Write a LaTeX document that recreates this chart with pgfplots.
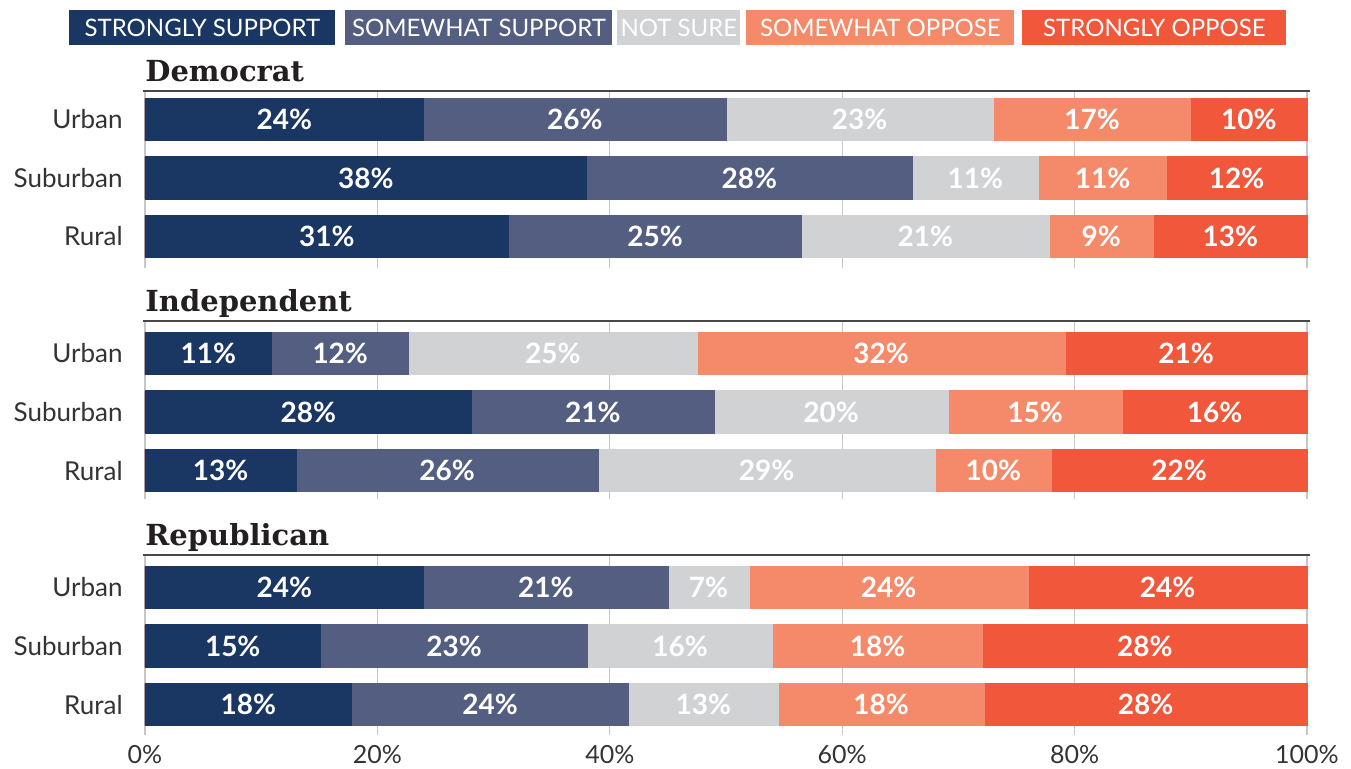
\documentclass[border=0pt]{standalone}
\usepackage{pgfplots}
\pgfplotsset{compat=1.18}
\usepackage{pgfplotstable}
\usepackage{fontspec}
\setmainfont{Lato}
\newfontfamily\titlefont{DejaVu Serif}
\definecolor{ss}{HTML}{1A3663}
\definecolor{sw}{HTML}{545E80}
\definecolor{ns}{HTML}{D1D2D4}
\definecolor{so}{HTML}{F48A69}
\definecolor{sto}{HTML}{F0573B}
\definecolor{txt}{HTML}{333333}
\definecolor{ttl}{HTML}{231F20}

\pgfplotstableread{
row v1 v2 v3 v4 v5
0 24.0 26.0 23.0 17.0 10.0
1 38.0 28.0 10.9 11.0 12.1
2 31.3 25.2 21.3 9.0 13.2
}\dem
\pgfplotstableread{
row v1 v2 v3 v4 v5
0 10.9 11.8 24.8 31.7 20.8
1 28.1 20.9 20.1 15.0 15.9
2 13.0 26.0 29.0 10.0 22.0
}\ind
\pgfplotstableread{
row v1 v2 v3 v4 v5
0 24.0 21.0 7.0 24.0 24.0
1 15.1 23.0 15.9 18.1 27.9
2 17.8 23.8 12.9 17.7 27.8
}\rep

\newcommand\allsegs[1]{%
\addplot[barst, fill=sto, draw=sto] table[x expr=\thisrow{v1}+\thisrow{v2}+\thisrow{v3}+\thisrow{v4}+\thisrow{v5}, y=row]{#1};
\addplot[barst, fill=so, draw=so] table[x expr=\thisrow{v1}+\thisrow{v2}+\thisrow{v3}+\thisrow{v4}, y=row]{#1};
\addplot[barst, fill=ns, draw=ns] table[x expr=\thisrow{v1}+\thisrow{v2}+\thisrow{v3}, y=row]{#1};
\addplot[barst, fill=sw, draw=sw] table[x expr=\thisrow{v1}+\thisrow{v2}, y=row]{#1};
\addplot[barst, fill=ss, draw=ss] table[x=v1, y=row]{#1};
\addplot[lab] table[x expr=\thisrow{v1}/2, y=row, meta=v1]{#1};
\addplot[lab] table[x expr=\thisrow{v1}+\thisrow{v2}/2, y=row, meta=v2]{#1};
\addplot[lab] table[x expr=\thisrow{v1}+\thisrow{v2}+\thisrow{v3}/2, y=row, meta=v3]{#1};
\addplot[lab] table[x expr=\thisrow{v1}+\thisrow{v2}+\thisrow{v3}+\thisrow{v4}/2, y=row, meta=v4]{#1};
\addplot[lab] table[x expr=\thisrow{v1}+\thisrow{v2}+\thisrow{v3}+\thisrow{v4}+\thisrow{v5}/2, y=row, meta=v5]{#1};
}

\pgfplotsset{
 barst/.style={xbar, bar shift=0pt, bar width=21.2pt, line width=0.4pt},
 lab/.style={draw=none, mark=none, point meta=explicit,
  nodes near coords={\pgfmathprintnumber[fixed,precision=0,assume math mode=true]{\pgfplotspointmeta}\%},
  every node near coord/.append style={anchor=center, text=white, inner sep=0pt,
     font=\bfseries\fontsize{14}{14}\selectfont}},
 grp/.style={
  x=5.81pt, y=29.25pt, xmin=0, xmax=100,
  y dir=reverse, ytick={0,1,2}, yticklabels={Urban,Suburban,Rural},
  xtick={0,20,...,100}, xmajorgrids,
  major grid style={draw=black!22, line width=0.6pt},
  axis line style={draw=none}, tick style={draw=none},
  yticklabel style={font=\fontsize{13}{13}\selectfont, text=txt, anchor=east, inner sep=0pt, xshift=-11pt},
  xticklabel style={font=\fontsize{12.5}{12.5}\selectfont, text=txt, anchor=north, inner sep=0pt, yshift=-5pt},
  clip=false,
  anchor=north west,
  grptitle/.style={extra description/.code={
    \draw[line width=0.75pt, color=black!72] ([xshift=-1pt]axis description cs:0,1) -- ([xshift=1.5pt]axis description cs:1,1);
    \node[anchor=base west, inner sep=0pt, text=ttl, font=\titlefont\bfseries\fontsize{14.5}{14.5}\selectfont] at ([yshift=5pt]axis description cs:0,1) {##1};
  }},
 },
}

\begin{document}
\begin{tikzpicture}
\useasboundingbox (0,0) rectangle (675.5pt,384pt);
% legend
\begin{scope}[every node/.style={anchor=north west, inner sep=0pt, minimum height=17.5pt, text=white, font=\fontsize{12}{12}\selectfont}]
\node[fill=ss, minimum width=133pt] at (34.5pt,379pt) {STRONGLY SUPPORT};
\node[fill=sw, minimum width=133.5pt] at (172.5pt,379pt) {SOMEWHAT SUPPORT};
\node[fill=ns, minimum width=61.5pt] at (308.5pt,379pt) {NOT SURE};
\node[fill=so, minimum width=134pt] at (373pt,379pt) {SOMEWHAT OPPOSE};
\node[fill=sto, minimum width=132pt] at (511pt,379pt) {STRONGLY OPPOSE};
\end{scope}

\begin{axis}[grp, at={(72.5pt,338.5pt)}, ymin=-0.487, ymax=2.538, xticklabels={,,,,,}, grptitle={Democrat}]
\allsegs{\dem}
\end{axis}

\begin{axis}[grp, at={(72.5pt,223.5pt)}, ymin=-0.556, ymax=2.487, xticklabels={,,,,,}, grptitle={Independent}]
\allsegs{\ind}
\end{axis}

\begin{axis}[grp, at={(72.5pt,106.5pt)}, ymin=-0.556, ymax=2.521,
  xticklabels={0\%,20\%,40\%,60\%,80\%,100\%}, grptitle={Republican}]
\allsegs{\rep}
\end{axis}
\end{tikzpicture}
\end{document}
